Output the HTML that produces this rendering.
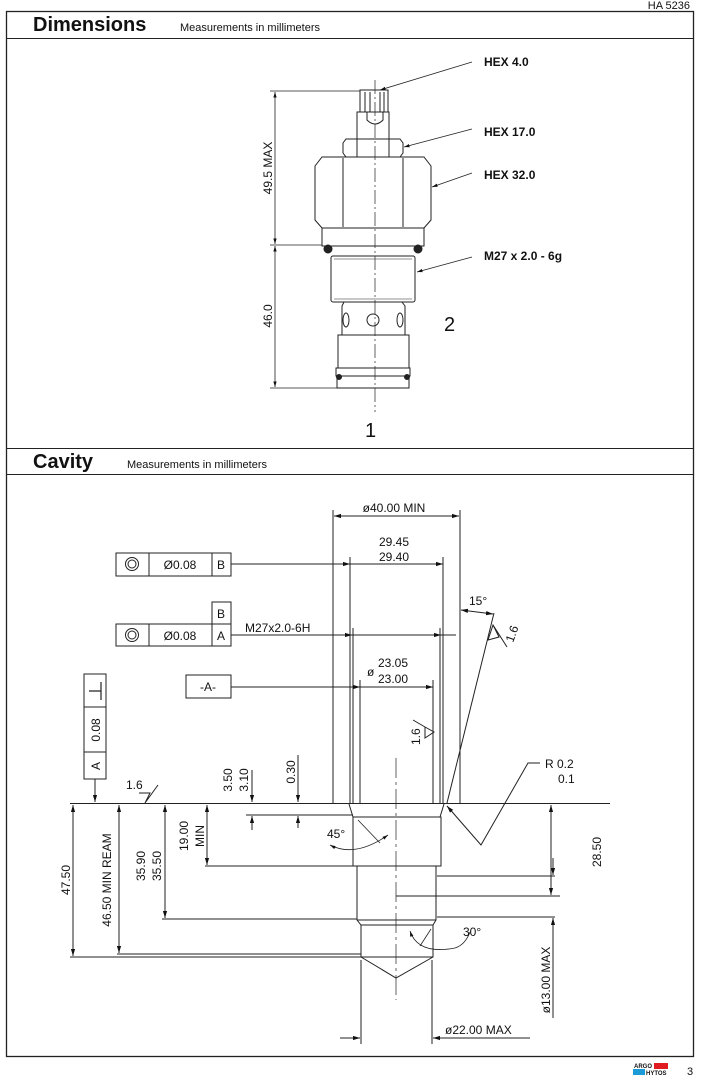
<!DOCTYPE html>
<html><head><meta charset="utf-8"><style>
html,body{margin:0;padding:0;background:#fff}
svg{display:block}
text{font-family:"Liberation Sans",Arial,sans-serif;fill:#111}
</style></head><body>
<svg width="703" height="1077" viewBox="0 0 703 1077" xmlns="http://www.w3.org/2000/svg">
<defs>
<marker id="a" viewBox="0 0 10 10" refX="10" refY="5" markerWidth="7" markerHeight="7" orient="auto-start-reverse"><path d="M0,2 L10,5 L0,8 z" fill="#111"/></marker>
</defs>
<g fill="none" stroke="#222" stroke-width="1">
<rect x="6.5" y="11.5" width="687" height="1045" stroke-width="1.3"/>
<line x1="6" y1="38.5" x2="694" y2="38.5"/>
<line x1="6" y1="448.5" x2="694" y2="448.5"/>
<line x1="6" y1="474.5" x2="694" y2="474.5"/>

<line x1="375" y1="80" x2="375" y2="412" stroke-dasharray="14,3,2,3" stroke-width="0.7"/>
<rect x="360" y="90" width="28" height="22"/>
<line x1="365" y1="92" x2="365" y2="112"/><line x1="370" y1="92" x2="370" y2="112"/><line x1="380" y1="92" x2="380" y2="112"/><line x1="384" y1="92" x2="384" y2="112"/>
<path d="M367,112 L367,120 Q375,128 383,120 L383,112"/>
<rect x="357" y="112" width="32" height="27"/>
<path d="M346,139 L400,139 L403,143 L403,153 L400,157 L346,157 L343,153 L343,143 Z"/>
<line x1="357" y1="139" x2="357" y2="157"/><line x1="389" y1="139" x2="389" y2="157"/>
<path d="M322,157 L424,157 L431,166 L431,220 L424,228 L322,228 L315,220 L315,166 Z"/>
<line x1="343" y1="158" x2="343" y2="227"/><line x1="403" y1="158" x2="403" y2="227"/>
<rect x="322" y="228" width="102" height="18"/>
<circle cx="328" cy="249" r="4" fill="#222"/><circle cx="418" cy="249" r="4" fill="#222"/>
<rect x="331" y="256" width="84" height="46" rx="2"/>
<line x1="334" y1="259" x2="412" y2="259" stroke-width="0.5"/><line x1="334" y1="299" x2="412" y2="299" stroke-width="0.5"/>
<path d="M344,302 L342,306 L342,335 M402,302 L405,306 L405,335"/>
<ellipse cx="346" cy="320" rx="3" ry="7"/><ellipse cx="400" cy="320" rx="3" ry="7"/>
<circle cx="373" cy="320" r="6"/>
<rect x="338" y="335" width="71" height="33"/>
<rect x="336" y="368" width="74" height="8"/>
<rect x="337" y="376" width="72" height="12"/>
<circle cx="339" cy="377" r="2.5" fill="#222"/><circle cx="407" cy="377" r="2.5" fill="#222"/>
<line x1="270" y1="91" x2="360" y2="91" stroke-width="0.8"/>
<line x1="270" y1="245" x2="322" y2="245" stroke-width="0.8"/>
<line x1="270" y1="388" x2="337" y2="388" stroke-width="0.8"/>
<line x1="275" y1="92" x2="275" y2="244" marker-start="url(#a)" marker-end="url(#a)" stroke-width="0.8"/>
<line x1="275" y1="246" x2="275" y2="387" marker-start="url(#a)" marker-end="url(#a)" stroke-width="0.8"/>
<line x1="472" y1="62" x2="380" y2="90" marker-end="url(#a)" stroke-width="0.8"/>
<line x1="472" y1="129" x2="404" y2="147" marker-end="url(#a)" stroke-width="0.8"/>
<line x1="472" y1="173" x2="432" y2="187" marker-end="url(#a)" stroke-width="0.8"/>
<line x1="472" y1="257" x2="417" y2="272" marker-end="url(#a)" stroke-width="0.8"/>

<line x1="70" y1="803.5" x2="610" y2="803.5"/>
<line x1="333" y1="510" x2="333" y2="803"/>
<line x1="460" y1="510" x2="460" y2="803"/>
<line x1="350" y1="557" x2="350" y2="803"/>
<line x1="443" y1="557" x2="443" y2="803"/>
<line x1="353" y1="628" x2="353" y2="803"/>
<line x1="440" y1="628" x2="440" y2="803"/>
<line x1="360" y1="680" x2="360" y2="803"/>
<line x1="433" y1="680" x2="433" y2="803"/>
<line x1="396" y1="758" x2="396" y2="1000" stroke-dasharray="20,4,3,4" stroke-width="0.7"/>
<line x1="334" y1="516" x2="459" y2="516" marker-start="url(#a)" marker-end="url(#a)"/>
<line x1="231" y1="564" x2="350" y2="564" marker-end="url(#a)"/>
<line x1="350" y1="564" x2="443" y2="564" marker-end="url(#a)"/>
<line x1="231" y1="635" x2="352" y2="635" marker-end="url(#a)"/>
<line x1="352" y1="635" x2="456" y2="635"/>
<line x1="430" y1="635" x2="441" y2="635" marker-end="url(#a)"/>
<line x1="231" y1="687" x2="360" y2="687" marker-end="url(#a)"/>
<line x1="360" y1="687" x2="433" y2="687" marker-end="url(#a)"/>
<rect x="116" y="553" width="115" height="23"/><line x1="149" y1="553" x2="149" y2="576"/><line x1="212" y1="553" x2="212" y2="576"/>
<circle cx="132" cy="564" r="6.5"/><circle cx="132" cy="564" r="4"/>
<rect x="116" y="624" width="115" height="22"/><line x1="149" y1="624" x2="149" y2="646"/><line x1="212" y1="624" x2="212" y2="646"/>
<rect x="212" y="602" width="19" height="22"/>
<circle cx="132" cy="635" r="6.5"/><circle cx="132" cy="635" r="4"/>
<rect x="186" y="675" width="45" height="23"/>
<rect x="84" y="674" width="22" height="105"/><line x1="84" y1="707" x2="106" y2="707"/><line x1="84" y1="752" x2="106" y2="752"/>
<path d="M101,682 L101,700 M89,691 L101,691" stroke-width="1.2"/>
<line x1="95" y1="779" x2="95" y2="802" marker-end="url(#a)"/>
<path d="M139,793 L150,793 L145,803 L158,785"/>
<path d="M425,727 L434,732 L425,738 Z M425,727 L413,720" />
<path d="M488,640 L493,625 L499,637 Z M493,625 L507,647"/>
<line x1="494" y1="613" x2="447" y2="803"/>
<path d="M461,610 L493,614" marker-start="url(#a)" marker-end="url(#a)"/>
<line x1="246" y1="815" x2="353" y2="815"/>
<line x1="252" y1="770" x2="252" y2="802" marker-end="url(#a)"/>
<line x1="252" y1="830" x2="252" y2="816" marker-end="url(#a)"/>
<line x1="298" y1="755" x2="298" y2="802" marker-end="url(#a)"/>
<line x1="298" y1="828" x2="298" y2="816" marker-end="url(#a)"/>
<path d="M349,804 L353,817 L440,817 L444,804"/>
<rect x="353" y="817" width="88" height="49"/>
<path d="M357,866 L357,920 L361,925 L433,925 L436,920 L436,866"/>
<line x1="357" y1="920" x2="436" y2="920"/>
<path d="M361,925 L361,957 L433,957 L433,925"/>
<path d="M361,957 L396,978 L433,957"/>
<line x1="358" y1="820" x2="380" y2="843" stroke-width="0.8"/>
<path d="M330,845 Q355,858 388,835" marker-start="url(#a)" marker-end="url(#a)" stroke-width="0.8"/>
<line x1="420" y1="946" x2="431" y2="929" stroke-width="0.8"/>
<path d="M410,931 Q418,955 455,948 Q465,945 470,932" marker-start="url(#a)" stroke-width="0.8"/>
<line x1="205" y1="866" x2="353" y2="866"/>
<line x1="162" y1="919" x2="357" y2="919"/>
<line x1="70" y1="957" x2="361" y2="957"/>
<line x1="117" y1="954" x2="361" y2="954"/>
<line x1="437" y1="876" x2="555" y2="876"/>
<line x1="396" y1="896" x2="560" y2="896"/>
<line x1="437" y1="917" x2="555" y2="917"/>
<line x1="73" y1="805" x2="73" y2="956" marker-start="url(#a)" marker-end="url(#a)"/>
<line x1="119" y1="805" x2="119" y2="953" marker-start="url(#a)" marker-end="url(#a)"/>
<line x1="165" y1="805" x2="165" y2="918" marker-start="url(#a)" marker-end="url(#a)"/>
<line x1="207" y1="805" x2="207" y2="865" marker-start="url(#a)" marker-end="url(#a)"/>
<line x1="551" y1="805" x2="551" y2="895" marker-start="url(#a)" marker-end="url(#a)"/>
<line x1="553" y1="858" x2="553" y2="875" marker-end="url(#a)"/>
<line x1="553" y1="1018" x2="553" y2="918" marker-end="url(#a)"/>
<line x1="361" y1="960" x2="361" y2="1044"/>
<line x1="432" y1="960" x2="432" y2="1044"/>
<line x1="340" y1="1038" x2="360" y2="1038" marker-end="url(#a)"/>
<line x1="530" y1="1038" x2="433" y2="1038" marker-end="url(#a)"/>
<path d="M540,763 L528,763 L481,845 L447,806" marker-end="url(#a)"/>
</g>

<text x="690" y="9" font-size="11" text-anchor="end">HA 5236</text>
<text x="33" y="31" font-size="20" font-weight="bold">Dimensions</text>
<text x="180" y="31" font-size="11">Measurements in millimeters</text>
<text x="33" y="468" font-size="20" font-weight="bold">Cavity</text>
<text x="127" y="468" font-size="11">Measurements in millimeters</text>
<g font-size="12" font-weight="bold">
<text x="484" y="66">HEX 4.0</text>
<text x="484" y="136">HEX 17.0</text>
<text x="484" y="179">HEX 32.0</text>
<text x="484" y="260">M27 x 2.0 - 6g</text>
</g>
<text x="444" y="331" font-size="20">2</text>
<text x="365" y="437" font-size="20">1</text>
<text transform="translate(272,168) rotate(-90)" font-size="12" text-anchor="middle">49.5 MAX</text>
<text transform="translate(272,316) rotate(-90)" font-size="12" text-anchor="middle">46.0</text>

<g font-size="12">
<text x="394" y="512" text-anchor="middle">ø40.00 MIN</text>
<text x="394" y="546" text-anchor="middle">29.45</text>
<text x="394" y="561" text-anchor="middle">29.40</text>
<text x="180" y="569" text-anchor="middle">Ø0.08</text>
<text x="221" y="569" text-anchor="middle">B</text>
<text x="221" y="618" text-anchor="middle">B</text>
<text x="180" y="640" text-anchor="middle">Ø0.08</text>
<text x="221" y="640" text-anchor="middle">A</text>
<text x="245" y="632">M27x2.0-6H</text>
<text x="367" y="676">ø</text>
<text x="378" y="667">23.05</text>
<text x="378" y="683">23.00</text>
<text x="208" y="691" text-anchor="middle">-A-</text>
<text transform="translate(100,730) rotate(-90)" text-anchor="middle">0.08</text>
<text transform="translate(100,766) rotate(-90)" text-anchor="middle">A</text>
<text x="126" y="789">1.6</text>
<text transform="translate(420,745) rotate(-90)">1.6</text>
<text transform="translate(513,643) rotate(-70)">1.6</text>
<text x="469" y="605">15°</text>
<text transform="translate(232,780) rotate(-90)" text-anchor="middle">3.50</text>
<text transform="translate(248,780) rotate(-90)" text-anchor="middle">3.10</text>
<text transform="translate(295,772) rotate(-90)" text-anchor="middle">0.30</text>
<text x="545" y="768">R 0.2</text>
<text x="558" y="783">0.1</text>
<text x="327" y="838">45°</text>
<text x="463" y="936">30°</text>
<text transform="translate(70,880) rotate(-90)" text-anchor="middle">47.50</text>
<text transform="translate(111,880) rotate(-90)" text-anchor="middle">46.50 MIN REAM</text>
<text transform="translate(145,866) rotate(-90)" text-anchor="middle">35.90</text>
<text transform="translate(161,866) rotate(-90)" text-anchor="middle">35.50</text>
<text transform="translate(188,836) rotate(-90)" text-anchor="middle">19.00</text>
<text transform="translate(204,836) rotate(-90)" text-anchor="middle">MIN</text>
<text transform="translate(601,852) rotate(-90)" text-anchor="middle">28.50</text>
<text transform="translate(550,980) rotate(-90)" text-anchor="middle">ø13.00 MAX</text>
<text x="445" y="1034">ø22.00 MAX</text>
</g>
<rect x="654" y="1063" width="14" height="6" fill="#e01b22"/>
<rect x="633" y="1069" width="12" height="6" fill="#1a9ad6"/>
<text x="634" y="1068" font-size="6" font-weight="bold">ARGO</text>
<text x="646" y="1075" font-size="6" font-weight="bold">HYTOS</text>
<text x="687" y="1075" font-size="11">3</text>
</svg>
</body></html>
